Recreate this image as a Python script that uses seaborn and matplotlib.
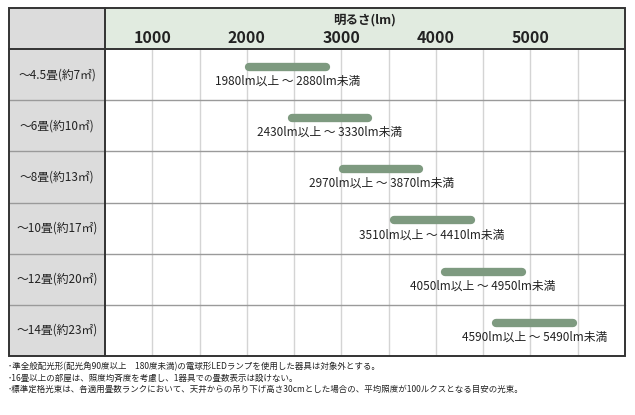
import matplotlib
matplotlib.use("Agg")
import matplotlib.pyplot as plt
import matplotlib.transforms as mtransforms
from matplotlib.patches import Rectangle
from matplotlib.lines import Line2D
import seaborn as sns
import pandas as pd

# Data
rooms = ["～4.5畳(約7㎡)", "～6畳(約10㎡)", "～8畳(約13㎡)",
         "～10畳(約17㎡)", "～12畳(約20㎡)", "～14畳(約23㎡)"]
lm_low = [1980, 2430, 2970, 3510, 4050, 4590]
lm_high = [2880, 3330, 3870, 4410, 4950, 5490]
tick_values = [1000, 2000, 3000, 4000, 5000]
axis_title = "明るさ(lm)"
notes = [
    "･準全般配光形(配光角90度以上　180度未満)の電球形LEDランプを使用した器具は対象外とする。",
    "･16畳以上の部屋は、照度均斉度を考慮し、1器具での畳数表示は設けない。",
    "･標準定格光束は、各適用畳数ランクにおいて、天井からの吊り下げ高さ30cmとした場合の、平均照度が100ルクスとなる目安の光束。",
]

sns.set_theme(style="white")
plt.rcParams["font.family"] = ["Noto Sans CJK JP", "DejaVu Sans"]

W, H = 635, 415
fig = plt.figure(figsize=(W / 100, H / 100), dpi=100)


def fx(px):
    return px / W


def fy(py):
    return 1 - py / H


# table geometry in pixels
L, C, R = 9, 105, 625
T, HB, B = 8, 49, 356
XMIN, XMAX = 500, 6000

gray = "#dcdcdc"
green = "#e1ebe0"
bar_col = "#7e9a80"
dark = "#333333"
bar_lw = 6.0  # points

# round caps stick out by half the line width; pull the ends in so the
# visible bar spans exactly low..high
cap_lm = (bar_lw / 2 * 100 / 72) * (XMAX - XMIN) / (R - C)

# long-form table for seaborn: one start and one end point per room
df = pd.DataFrame({
    "room": rooms * 2,
    "pos": list(range(len(rooms))) * 2,
    "lm": [v + cap_lm for v in lm_low] + [v - cap_lm for v in lm_high],
})
df["ypos"] = df["pos"] - 0.15

# backgrounds
fig.patches.append(Rectangle((fx(L), fy(B)), fx(C) - fx(L), fy(T) - fy(B),
                             transform=fig.transFigure, fc=gray, ec="none", zorder=0))
fig.patches.append(Rectangle((fx(C), fy(HB)), fx(R) - fx(C), fy(T) - fy(HB),
                             transform=fig.transFigure, fc=green, ec="none", zorder=0))

ax = fig.add_axes([fx(C), fy(B), fx(R) - fx(C), fy(HB) - fy(B)])
ax.set_facecolor("white")
ax.set_xlim(XMIN, XMAX)
ax.set_ylim(len(rooms) - 0.5, -0.5)
ax.set_xticks(range(1000, 6000, 500))
ax.set_yticks([])
ax.tick_params(axis="x", length=0, labelbottom=False)
ax.grid(axis="x", color="#d4d4d4", lw=1)
ax.grid(axis="y", visible=False)
for s in ax.spines.values():
    s.set_visible(False)

# range bars
sns.lineplot(data=df, x="lm", y="ypos", units="room", estimator=None,
             color=bar_col, lw=bar_lw, solid_capstyle="round", legend=False,
             sort=False, ax=ax, zorder=3)
ax.set_xlim(XMIN, XMAX)
ax.set_ylim(len(rooms) - 0.5, -0.5)
ax.set_xlabel("")
ax.set_ylabel("")

for i, (lo, hi) in enumerate(zip(lm_low, lm_high)):
    ax.text((lo + hi) / 2, i + 0.13, f"{lo}lm以上 ～ {hi}lm未満",
            ha="center", va="center", fontsize=8.5, color="#222222", zorder=4)

# row separators across the whole table
row_h = (B - HB) / len(rooms)
for k in range(1, len(rooms)):
    y = HB + k * row_h
    fig.add_artist(Line2D([fx(L), fx(R)], [fy(y), fy(y)], color="#9a9a9a", lw=1,
                          transform=fig.transFigure, zorder=5))

# row labels
for k, name in enumerate(rooms):
    fig.text(fx((L + C) / 2), fy(HB + (k + 0.5) * row_h), name,
             ha="center", va="center", fontsize=8.5, color="#222222")

# header
bt = mtransforms.blended_transform_factory(ax.transData, fig.transFigure)
for v in tick_values:
    fig.text(v, fy(38), str(v), transform=bt, ha="center", va="center",
             fontsize=11.5, fontweight="bold", color="#222222")
fig.text(fx((C + R) / 2), fy(20), axis_title, ha="center", va="center",
         fontsize=9, fontweight="bold", color="#222222")

# borders
fig.patches.append(Rectangle((fx(L), fy(B)), fx(R) - fx(L), fy(T) - fy(B),
                             transform=fig.transFigure, fc="none", ec=dark, lw=1.4, zorder=6))
fig.add_artist(Line2D([fx(C), fx(C)], [fy(T), fy(B)], color=dark, lw=1.4,
                      transform=fig.transFigure, zorder=6))
fig.add_artist(Line2D([fx(L), fx(R)], [fy(HB), fy(HB)], color=dark, lw=1.4,
                      transform=fig.transFigure, zorder=6))

# footnotes
for k, line in enumerate(notes):
    fig.text(fx(8), fy(367 + 11 * k), line, ha="left", va="center",
             fontsize=6.1, color="#222222")

fig.savefig("out.png", dpi=100)
